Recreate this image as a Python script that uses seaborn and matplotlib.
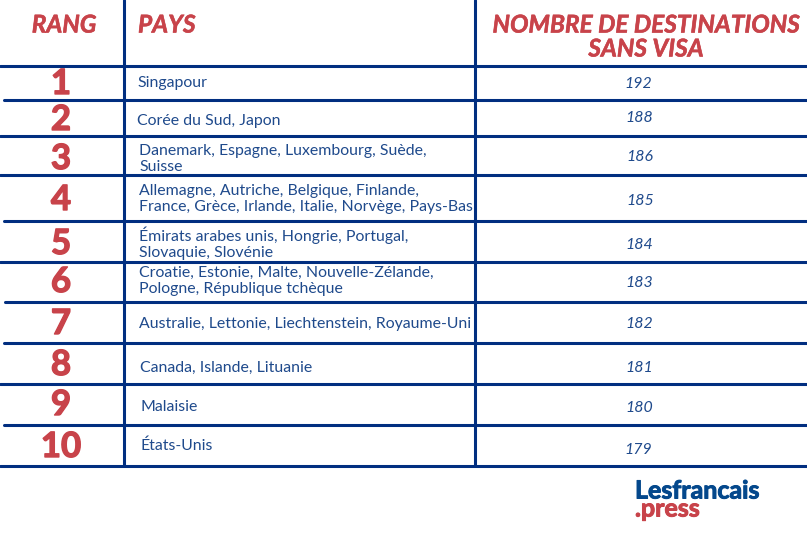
import matplotlib.patheffects as pe
import matplotlib.pyplot as plt
import pandas as pd
import seaborn as sns

sns.set_style('white')
plt.rcParams['font.family'] = ['Lato', 'DejaVu Sans']

BLUE = '#012e80'
TEXT_BLUE = '#1f4a8c'
RED = '#c8434a'

# table content
ranks = ['1', '2', '3', '4', '5', '6', '7', '8', '9', '10']
countries = [
    'Singapour',
    'Corée du Sud, Japon',
    'Danemark, Espagne, Luxembourg, Suède,\nSuisse',
    'Allemagne, Autriche, Belgique, Finlande,\nFrance, Grèce, Irlande, Italie, Norvège, Pays-Bas',
    'Émirats arabes unis, Hongrie, Portugal,\nSlovaquie, Slovénie',
    'Croatie, Estonie, Malte, Nouvelle-Zélande,\nPologne, République tchèque',
    'Australie, Lettonie, Liechtenstein, Royaume-Uni',
    'Canada, Islande, Lituanie',
    'Malaisie',
    'États-Unis',
]
destinations = [192, 188, 186, 185, 184, 183, 182, 181, 180, 179]

# layout in image pixels
rule_y = [66, 100, 136, 175, 221, 262, 302, 343, 384, 425, 466]
rule_x0 = [0, 4, 0, 0, 4, 0, 5, 4, 0, 4, 0]
rank_y = [84, 120, 159, 200, 244, 282, 324, 365, 405, 447]
country_x = [137, 137, 139, 139, 139, 139, 139, 140, 140, 140]
country_y = [83, 121, 159, 199, 243, 281, 324, 368, 407, 446]
value_x = [638, 639, 640, 640, 639, 639, 639, 639, 639, 638]
value_y = [84, 118, 157, 201, 245, 283, 324, 368, 408, 450]

fig, ax = plt.subplots(figsize=(8.07, 5.36), dpi=100)
ax.set_position([0, 0, 1, 1])

# horizontal and vertical rules as one long table
rules = []
for i, (y, x0) in enumerate(zip(rule_y, rule_x0)):
    rules += [{'rule': i, 'x': x0, 'y': y}, {'rule': i, 'x': 807, 'y': y}]
for i, x in enumerate([124, 475]):
    rules += [{'rule': 20 + i, 'x': x, 'y': 0}, {'rule': 20 + i, 'x': x, 'y': 466}]
rules = pd.DataFrame(rules)
sns.lineplot(data=rules, x='x', y='y', units='rule', estimator=None, sort=False,
             color=BLUE, linewidth=2.2, ax=ax)

ax.set_xlim(0, 807)
ax.set_ylim(536, 0)
ax.axis('off')

# the reference is heavier than Lato bold, thicken with a thin outline
def heavy(width):
    return [pe.withStroke(linewidth=width, foreground=RED)]

# headers
head = dict(color=RED, fontsize=17.6, fontweight='bold', fontstyle='italic',
            va='center', linespacing=1.05, path_effects=heavy(0.4))
ax.text(64, 25, 'RANG', ha='center', **head)
ax.text(138, 25, 'PAYS', ha='left', **head)
ax.text(646, 37, 'NOMBRE DE DESTINATIONS\nSANS VISA', ha='center', **head)

# rows
for i in range(len(ranks)):
    ax.text(61, rank_y[i], ranks[i], color=RED, fontsize=25, fontweight='bold',
            ha='center', va='center', path_effects=heavy(1.0))
    ax.text(country_x[i], country_y[i], countries[i], color=TEXT_BLUE, fontsize=11.4,
            ha='left', va='center', linespacing=1.15)
    ax.text(value_x[i], value_y[i], str(destinations[i]), color=TEXT_BLUE, fontsize=11.4,
            fontstyle='italic', ha='center', va='center')

# logo
ax.text(635, 491, 'Lesfrancais', color='#04488c', fontsize=18, fontweight='bold',
        ha='left', va='center', path_effects=[pe.withStroke(linewidth=0.7, foreground='#04488c')])
ax.text(635, 509, '.press', color=RED, fontsize=18, fontweight='bold',
        ha='left', va='center', path_effects=heavy(0.7))

fig.savefig('out.png', dpi=100)
